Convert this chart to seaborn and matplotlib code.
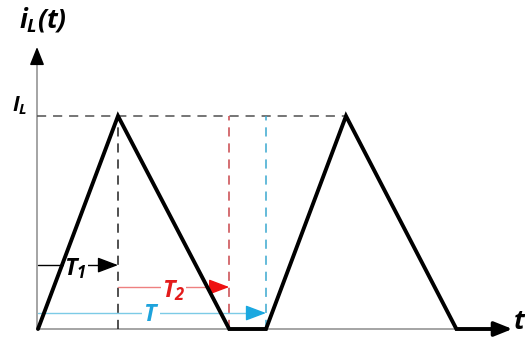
import matplotlib
matplotlib.use("Agg")
import matplotlib.pyplot as plt
import seaborn as sns
import pandas as pd

# Inductor current waveform (time in units of T1, current in units of I_L)
time_pts = [0.0, 1.0, 2.39, 2.85, 3.85, 5.23, 5.74]
current_pts = [0.0, 1.0, 0.0, 0.0, 1.0, 0.0, 0.0]

# Interval markers: (start, end) of T1, T2, T
t1_span = [0.0, 1.0]
t2_span = [1.0, 2.39]
t_span = [0.0, 2.85]
peak_level = 1.0

sns.set_style("white")
plt.rcParams["font.family"] = ["Open Sans", "DejaVu Sans"]
plt.rcParams["mathtext.fontset"] = "custom"
label_font = "Open Sans:style=italic:weight=bold"
plt.rcParams["mathtext.rm"] = label_font
plt.rcParams["mathtext.it"] = label_font
plt.rcParams["mathtext.bf"] = label_font

fig = plt.figure(figsize=(5.25, 3.42), dpi=100)
ax = fig.add_axes([0, 0, 1, 1])
ax.set_xlim(-0.475, 6.0875)
ax.set_ylim(-0.061, 1.5446)
ax.axis("off")

axis_gray = "#8c8c8c"
# axes lines
ax.plot([-0.0125, 5.74], [0, 0], color=axis_gray, lw=1.1, zorder=1)
ax.plot([-0.0125, -0.0125], [0, 1.28], color=axis_gray, lw=1.1, zorder=1)
# axis arrowheads
ax.annotate("", xy=(5.93, 0), xytext=(5.70, 0),
            arrowprops=dict(arrowstyle="-|>,head_length=0.55,head_width=0.22",
                            mutation_scale=20, color="black", lw=2.5,
                            shrinkA=0, shrinkB=0), zorder=5)
ax.annotate("", xy=(-0.0125, 1.324), xytext=(-0.0125, 1.25),
            arrowprops=dict(arrowstyle="-|>,head_length=0.55,head_width=0.22",
                            mutation_scale=20, color="black", lw=1.1,
                            shrinkA=0, shrinkB=0), zorder=5)

# dashed guides
dash = (0, (6, 4.5))
second_peak_t = time_pts[4]
ax.plot([-0.0125, second_peak_t], [peak_level, peak_level], color="#505050",
        lw=1.1, linestyle=dash, zorder=2)
ax.plot([t1_span[1]] * 2, [0, peak_level], color="#202020", lw=1.1,
        linestyle=dash, zorder=2)
ax.plot([t2_span[1]] * 2, [0, peak_level], color="#c9474b", lw=1.1,
        linestyle=dash, zorder=2)
ax.plot([t_span[1]] * 2, [0, peak_level], color="#3aa8d0", lw=1.1,
        linestyle=dash, zorder=2)

# waveform
df = pd.DataFrame({"t": time_pts, "i": current_pts})
sns.lineplot(data=df, x="t", y="i", ax=ax, color="black", lw=2.8,
             sort=False, estimator=None, zorder=4)
ax.lines[-1].set_solid_joinstyle("miter")

# interval arrows
def span_arrow(span, y, line_color, head_color):
    ax.plot([span[0], span[1] - 0.2], [y, y], color=line_color, lw=1.0, zorder=3)
    ax.annotate("", xy=(span[1], y), xytext=(span[1] - 0.22, y),
                arrowprops=dict(arrowstyle="-|>,head_length=0.9,head_width=0.34",
                                mutation_scale=14, color=head_color, lw=1.0,
                                shrinkA=0, shrinkB=0), zorder=3)

span_arrow(t1_span, 0.30, "black", "black")
span_arrow(t2_span, 0.197, "#ee8080", "#ee1111")
span_arrow(t_span, 0.075, "#7ccbe6", "#1ba8e0")

bbox = dict(facecolor="white", edgecolor="none", pad=0.5)
ax.text(0.47, 0.285, r"$T_1$", fontsize=17, color="black", ha="center",
        va="center", bbox=bbox, zorder=3.5)
ax.text(1.69, 0.18, r"$T_2$", fontsize=17, color="#e31b1b", ha="center",
        va="center", bbox=bbox, zorder=3.5)
ax.text(1.41, 0.066, r"$T$", fontsize=17, color="#1ea3dc", ha="center",
        va="center", bbox=bbox, zorder=3.5)

# axis labels
ax.text(0.06, 1.455, r"$i_L(t)$", fontsize=19, color="black", ha="center",
        va="center")
ax.text(-0.225, 1.05, r"$I_L$", fontsize=15, color="black", ha="center",
        va="center")
ax.text(6.02, 0.03, r"$t$", fontsize=19, color="black", ha="center",
        va="center")

fig.savefig("out.png", dpi=100)
